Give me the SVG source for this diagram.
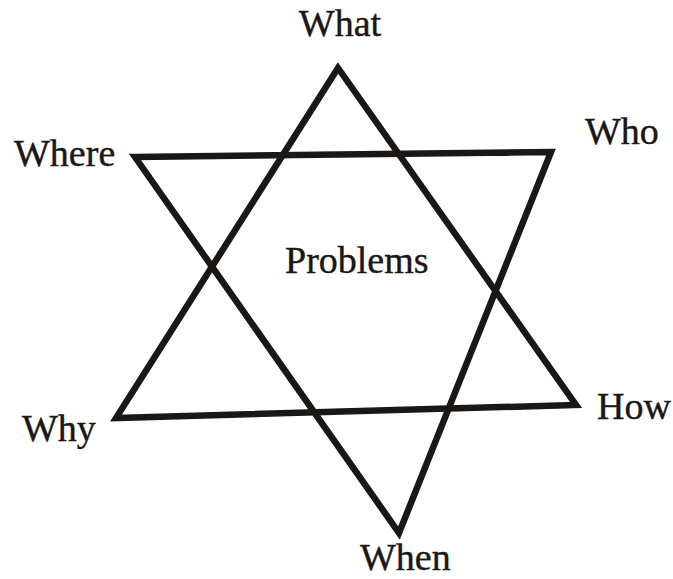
<svg xmlns="http://www.w3.org/2000/svg" width="673" height="579" viewBox="0 0 673 579">
<style>
.tri{fill:none;stroke:#1a1714;stroke-width:6.5;stroke-linejoin:miter;stroke-miterlimit:10}
.lbl{font-family:"Liberation Serif","Times New Roman",serif;font-size:38px;fill:#1a1714;stroke:#1a1714;stroke-width:0.4}
</style>
<rect width="673" height="579" fill="#fff"/>
<g id="connectors">
<polygon id="up" class="tri" points="338,68 116,418 576,405"/>
<polygon id="down" class="tri" points="135,157 551,152 399,533"/>
</g>
<g id="what"><text class="lbl" x="340" y="36" text-anchor="middle">What</text></g>
<g id="where"><text class="lbl" x="14" y="166">Where</text></g>
<g id="who"><text class="lbl" x="585" y="144">Who</text></g>
<g id="problems"><text class="lbl" x="285" y="273">Problems</text></g>
<g id="why"><text class="lbl" x="22" y="441">Why</text></g>
<g id="how"><text class="lbl" x="597" y="419">How</text></g>
<g id="when"><text class="lbl" x="360" y="570">When</text></g>
</svg>
